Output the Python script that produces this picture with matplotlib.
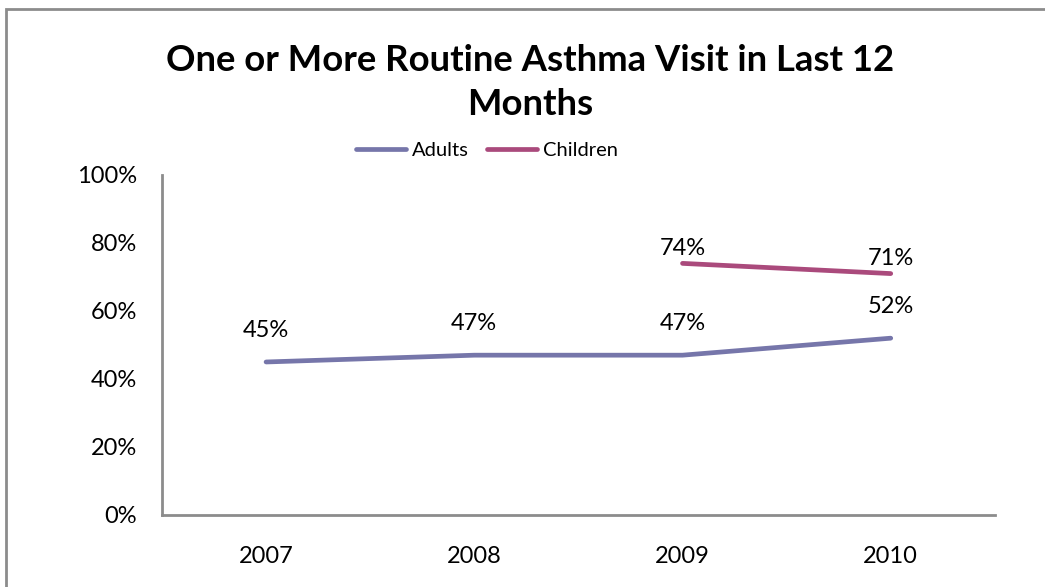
import matplotlib
matplotlib.use("Agg")
import matplotlib.pyplot as plt
from matplotlib.patches import Rectangle
from matplotlib.ticker import FuncFormatter

years = ["2007", "2008", "2009", "2010"]
adults = [45, 47, 47, 52]
children_years = ["2009", "2010"]
children = [74, 71]
title = "One or More Routine Asthma Visit in Last 12\nMonths"

adult_color = "#7676AA"
child_color = "#AA4A7C"
axis_color = "#8C8C8C"
font = ["Lato", "DejaVu Sans"]

plt.rcParams["font.family"] = font

fig = plt.figure(figsize=(10.45, 5.87), dpi=100)
ax = fig.add_axes([0.155, 0.1227, 0.797, 0.5792])

xa = [years.index(y) for y in years]
xc = [years.index(y) for y in children_years]

ax.plot(xa, adults, color=adult_color, lw=3.4, solid_capstyle="round", label="Adults")
ax.plot(xc, children, color=child_color, lw=3.4, solid_capstyle="round", label="Children")

for x, v in zip(xa, adults):
    ax.annotate(f"{v}%", (x, v), xytext=(0, 23), textcoords="offset points",
                ha="center", va="center", fontsize=17)
for x, v in zip(xc, children):
    ax.annotate(f"{v}%", (x, v), xytext=(0, 11), textcoords="offset points",
                ha="center", va="center", fontsize=17)

ax.set_xlim(-0.5, len(years) - 0.5)
ax.set_ylim(0, 100)
ax.set_xticks(range(len(years)))
ax.set_xticklabels(years)
ax.set_yticks(range(0, 101, 20))
ax.yaxis.set_major_formatter(FuncFormatter(lambda v, p: f"{int(v)}%"))
ax.tick_params(axis="both", length=0, labelsize=17)
ax.tick_params(axis="y", pad=18)
ax.tick_params(axis="x", pad=22)
for s in ["top", "right"]:
    ax.spines[s].set_visible(False)
for s in ["left", "bottom"]:
    ax.spines[s].set_color(axis_color)
    ax.spines[s].set_linewidth(2)

fig.text(0.507, 0.859, title, ha="center", va="center", fontsize=26.3,
         fontweight="bold", linespacing=1.4)

fig.legend(loc="center", bbox_to_anchor=(0.466, 0.743), ncol=2, frameon=False,
           fontsize=14.5, handlelength=2.5, handletextpad=0.3, columnspacing=0.9)

fig.patches.append(Rectangle((6 / 1045, -0.1), 1.2, 1 - 9 / 587 + 0.1,
                             transform=fig.transFigure, fill=False,
                             edgecolor=axis_color, lw=2))

fig.savefig("out.png", dpi=100)
